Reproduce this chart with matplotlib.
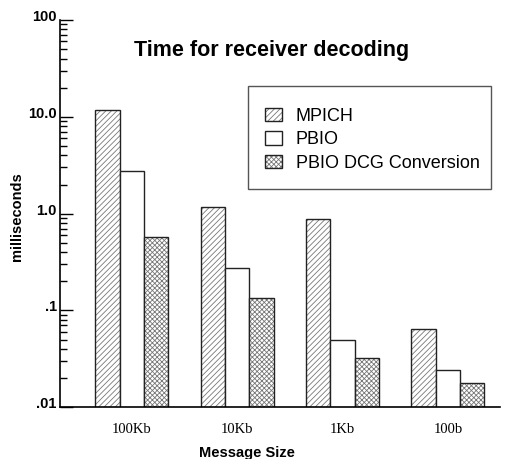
import numpy as np
import matplotlib
matplotlib.use('Agg')
import matplotlib.pyplot as plt
import matplotlib.transforms as mtransforms
from matplotlib.patches import Rectangle

plt.rcParams['font.family'] = ['Liberation Sans', 'DejaVu Sans']
plt.rcParams['hatch.linewidth'] = 0.6
plt.rcParams['hatch.color'] = '#777777'

# data (milliseconds)
sizes = ['100Kb', '10Kb', '1Kb', '100b']
mpich = [11.8, 1.17, 0.88, 0.065]
pbio = [2.78, 0.277, 0.049, 0.024]
pbio_dcg = [0.57, 0.134, 0.032, 0.0178]
yticks = [0.01, 0.1, 1.0, 10.0, 100.0]
ytick_labels = ['.01', '.1', '1.0', '10.0', '100']

W, H = 505, 459
fig = plt.figure(figsize=(W / 100, H / 100), dpi=100)
ax = fig.add_axes([59.5 / W, 1 - 407.3 / H, 440.5 / W, 387.3 / H])

x = np.arange(len(sizes))
bw = 0.231
series = [(mpich, '//////', 'MPICH', -bw),
          (pbio, '', 'PBIO', 0),
          (pbio_dcg, 'xxxxxxx', 'PBIO DCG Conversion', bw)]
handles, labels = [], []
for vals, hatch, name, off in series:
    # hatched fill (grey hatch), then a dark outline on top
    fill = ax.bar(x + off, vals, width=bw, color='white', hatch=hatch, linewidth=0)
    edge = ax.bar(x + off, vals, width=bw, fill=False, edgecolor='#222222', linewidth=1.0)
    handles.append((fill[0], edge[0]))
    labels.append(name)

ax.set_yscale('log')
ax.set_ylim(0.01, 100)
ax.set_xlim(-0.688, 3.495)
ax.set_yticks(yticks)
ax.set_yticklabels(ytick_labels, fontweight='bold', fontsize=10.5)
ax.tick_params(axis='y', which='major', direction='in', length=9, width=1, pad=2)
ax.tick_params(axis='y', which='minor', direction='in', length=5, width=1)
shift = mtransforms.ScaledTranslation(0, 4.5 / 100, fig.dpi_scale_trans)
for lab in ax.get_yticklabels():
    lab.set_transform(lab.get_transform() + shift)
ax.set_xticks(x)
ax.set_xticklabels(sizes, family='Liberation Serif', fontsize=10.5)
ax.tick_params(axis='x', length=0, pad=11)

for s in ['top', 'right']:
    ax.spines[s].set_visible(False)
for s in ['left', 'bottom']:
    ax.spines[s].set_linewidth(1.2)

ax.set_ylabel('milliseconds', fontweight='bold', fontsize=10.5)
ax.yaxis.set_label_coords(-0.08, 0.4926)
ax.set_xlabel('Message Size', fontweight='bold', fontsize=10.5)
ax.xaxis.set_label_coords(0.425, -0.099)

ax.text(0.481, 0.907, 'Time for receiver decoding', transform=ax.transAxes,
        ha='center', va='baseline', fontsize=15.5, fontweight='bold')

# legend frame drawn separately so the padding matches
fig.patches.append(Rectangle((248 / W, 1 - 189 / H), 243 / W, 103 / H,
                             transform=fig.transFigure, fill=False,
                             edgecolor='#555555', linewidth=1.0))
ax.legend(handles, labels, loc='upper left', bbox_to_anchor=(265 / W, 1 - 108 / H),
          bbox_transform=fig.transFigure, frameon=False, fontsize=13,
          borderpad=0, borderaxespad=0, handlelength=0.95, handleheight=0.75,
          handletextpad=0.75, labelspacing=0.35)

fig.savefig('out.png', dpi=100)
